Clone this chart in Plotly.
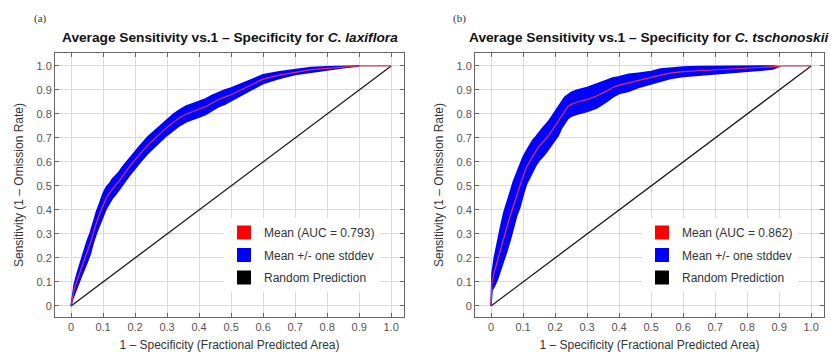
import plotly.graph_objects as go

# ---------------- data ----------------
tick_vals = [0, 0.1, 0.2, 0.3, 0.4, 0.5, 0.6, 0.7, 0.8, 0.9, 1.0]
tick_text = ["0", "0.1", "0.2", "0.3", "0.4", "0.5", "0.6", "0.7", "0.8", "0.9", "1.0"]

species = ["C. laxiflora", "C. tschonoskii"]
auc_values = ["0.793", "0.862"]
panel_labels = ["(a)", "(b)"]

# C. laxiflora: fractional predicted area, mean sensitivity, stddev
lax_x = [0.0, 0.005, 0.01, 0.02, 0.03, 0.04, 0.05, 0.06, 0.07, 0.08, 0.09, 0.10,
         0.11, 0.12, 0.13, 0.14, 0.15, 0.16, 0.18, 0.20, 0.22, 0.24, 0.26, 0.28,
         0.30, 0.32, 0.34, 0.36, 0.38, 0.40, 0.42, 0.44, 0.46, 0.48, 0.50, 0.53,
         0.56, 0.60, 0.65, 0.70, 0.75, 0.80, 0.85, 0.90, 1.0]
lax_mean = [0.0, 0.04, 0.07, 0.11, 0.15, 0.19, 0.225, 0.26, 0.31, 0.35, 0.385, 0.42,
            0.45, 0.47, 0.49, 0.505, 0.52, 0.54, 0.575, 0.61, 0.64, 0.67, 0.695, 0.72,
            0.745, 0.765, 0.785, 0.80, 0.81, 0.82, 0.83, 0.845, 0.86, 0.87, 0.88, 0.90,
            0.92, 0.945, 0.962, 0.975, 0.985, 0.99, 0.996, 1.0, 1.0]
lax_sd = [0.0, 0.012, 0.02, 0.03, 0.035, 0.04, 0.045, 0.045, 0.045, 0.045, 0.045, 0.048,
          0.045, 0.04, 0.04, 0.04, 0.038, 0.038, 0.036, 0.036, 0.035, 0.035, 0.034, 0.034,
          0.034, 0.034, 0.033, 0.033, 0.033, 0.033, 0.033, 0.032, 0.03, 0.03, 0.028, 0.025,
          0.022, 0.018, 0.014, 0.011, 0.009, 0.007, 0.003, 0.0, 0.0]

# C. tschonoskii
tsc_x = [0.0, 0.003, 0.01, 0.02, 0.03, 0.04, 0.05, 0.06, 0.07, 0.08, 0.09, 0.10,
         0.11, 0.12, 0.13, 0.14, 0.15, 0.16, 0.17, 0.18, 0.19, 0.20, 0.21, 0.22,
         0.23, 0.24, 0.25, 0.27, 0.30, 0.33, 0.36, 0.38, 0.40, 0.43, 0.46, 0.50,
         0.53, 0.56, 0.60, 0.65, 0.70, 0.75, 0.80, 0.85, 0.88, 0.90, 0.91, 1.0]
tsc_mean = [0.0, 0.10, 0.14, 0.19, 0.24, 0.29, 0.33, 0.375, 0.42, 0.465, 0.50, 0.54,
            0.575, 0.60, 0.625, 0.645, 0.665, 0.68, 0.695, 0.71, 0.73, 0.75, 0.77, 0.795,
            0.815, 0.83, 0.84, 0.85, 0.86, 0.875, 0.895, 0.91, 0.92, 0.93, 0.94, 0.952,
            0.962, 0.97, 0.976, 0.98, 0.983, 0.987, 0.99, 0.993, 0.995, 0.998, 1.0, 1.0]
tsc_sd = [0.0, 0.035, 0.06, 0.08, 0.09, 0.10, 0.10, 0.10, 0.10, 0.09, 0.09, 0.08,
          0.07, 0.07, 0.065, 0.06, 0.06, 0.06, 0.06, 0.06, 0.06, 0.06, 0.06, 0.055,
          0.055, 0.05, 0.05, 0.05, 0.05, 0.05, 0.045, 0.04, 0.035, 0.035, 0.03, 0.025,
          0.025, 0.022, 0.02, 0.018, 0.016, 0.015, 0.012, 0.01, 0.008, 0.0, 0.0, 0.0]

random_x = [0, 1]
random_y = [0, 1]

panels = [(lax_x, lax_mean, lax_sd), (tsc_x, tsc_mean, tsc_sd)]

# ---------------- figure ----------------
W, H = 831, 352
FONT = "Liberation Sans, Arial, sans-serif"
BLUE = "#0000ff"
RED_LINE = "#e0305a"

fig = go.Figure()

x_domains = [[55 / W, 404 / W], [475 / W, 824 / W]]
y_domain = [(H - 317) / H, (H - 53) / H]
legend_x = [224 / W, 642 / W]

for i, (px, pm, ps) in enumerate(panels):
    xa = "x" if i == 0 else "x2"
    ya = "y" if i == 0 else "y2"
    leg = "legend" if i == 0 else "legend2"

    # band only where stddev exists
    n = max(k for k, s in enumerate(ps) if s > 0) + 2
    bx = px[:n]
    upper = [min(1.0, m + s) for m, s in zip(pm[:n], ps[:n])]
    lower = [max(0.0, m - s) for m, s in zip(pm[:n], ps[:n])]

    fig.add_trace(go.Scatter(x=random_x, y=random_y, mode="lines",
                             line=dict(color="#1a1a1a", width=1.3),
                             showlegend=False, hoverinfo="skip", xaxis=xa, yaxis=ya))
    fig.add_trace(go.Scatter(x=bx + bx[::-1], y=upper + lower[::-1], mode="lines",
                             fill="toself", fillcolor=BLUE,
                             line=dict(color=BLUE, width=1.5),
                             showlegend=False, hoverinfo="skip", xaxis=xa, yaxis=ya))
    fig.add_trace(go.Scatter(x=px, y=pm, mode="lines",
                             line=dict(color=RED_LINE, width=1.2),
                             showlegend=False, hoverinfo="skip", xaxis=xa, yaxis=ya))

    # legend entries
    for name, col, grp in [(f"Mean (AUC = {auc_values[i]})", "#ff0000", "m"),
                           ("Mean +/- one stddev", "#0000ff", "s"),
                           ("Random Prediction", "#000000", "r")]:
        fig.add_trace(go.Scatter(x=[None], y=[None], mode="markers",
                                 marker=dict(symbol="square", size=14, color=col),
                                 name=name, legend=leg, legendgroup=grp + str(i),
                                 xaxis=xa, yaxis=ya))

    axis_common = dict(
        tickvals=tick_vals, ticktext=tick_text, ticks="inside", ticklen=4,
        tickcolor="#666", showline=True, linecolor="#666", linewidth=1,
        mirror="ticks", showgrid=True, gridcolor="#dadada", gridwidth=1,
        zeroline=False, tickfont=dict(family=FONT, size=11, color="#555"),
        automargin=False,
    )
    xkey = "xaxis" if i == 0 else "xaxis2"
    ykey = "yaxis" if i == 0 else "yaxis2"
    fig.update_layout(**{
        xkey: dict(axis_common, domain=x_domains[i], range=[-0.05, 1.04],
                   anchor=ya,
                   title=dict(text="1 – Specificity (Fractional Predicted Area)",
                              font=dict(family=FONT, size=12, color="#333"),
                              standoff=8)),
        ykey: dict(axis_common, domain=y_domain, range=[-0.046, 1.054],
                   anchor=xa,
                   title=dict(text="Sensitivity (1 – Omission Rate)",
                              font=dict(family=FONT, size=12, color="#333"),
                              standoff=10)),
        leg: dict(x=legend_x[i], y=(H - 218) / H, xanchor="left", yanchor="top",
                  bgcolor="#ffffff", borderwidth=0, tracegroupgap=3.5,
                  font=dict(family=FONT, size=12, color="#333")),
    })

    xc = (x_domains[i][0] + x_domains[i][1]) / 2
    fig.add_annotation(x=xc, y=(H - 38) / H, xref="paper", yref="paper",
                       text=f"<b>Average Sensitivity vs.1 – Specificity for <i>{species[i]}</i></b>",
                       showarrow=False, xanchor="center", yanchor="middle",
                       font=dict(family=FONT, size=13.7, color="#111"))
    fig.add_annotation(x=(40 + 420 * i) / W, y=(H - 19) / H, xref="paper", yref="paper",
                       text=panel_labels[i], showarrow=False,
                       xanchor="center", yanchor="middle",
                       font=dict(family="Liberation Serif, Times New Roman, serif",
                                 size=11, color="#333"))

fig.update_layout(template="none", width=W, height=H,
                  margin=dict(l=0, r=0, t=0, b=0),
                  paper_bgcolor="#ffffff", plot_bgcolor="#ffffff",
                  font=dict(family=FONT))

fig.write_html("out.html")
